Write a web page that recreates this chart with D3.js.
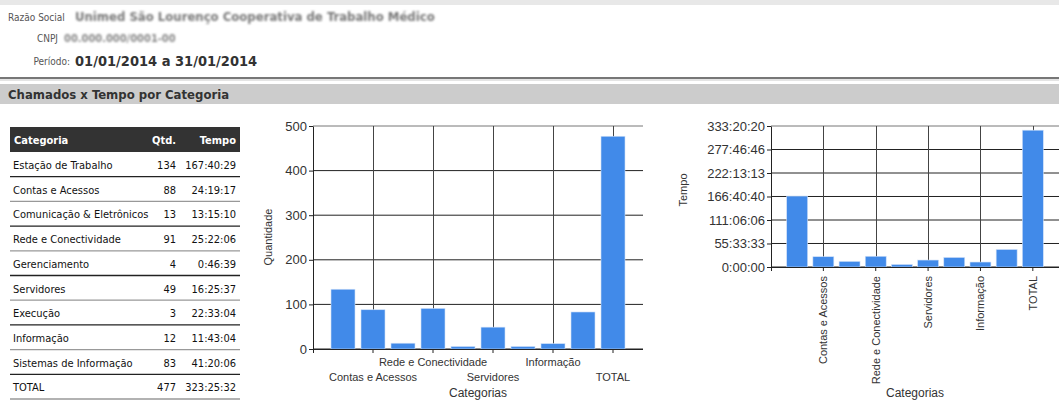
<!DOCTYPE html>
<html>
<head>
<meta charset="utf-8">
<script src="https://cdn.jsdelivr.net/npm/d3@7"></script>
<style>
  body { margin: 0; background: #fff; }
  svg { display: block; }
  .hdr { font-family: "DejaVu Sans Condensed", "DejaVu Sans", sans-serif; }
  .chart text { font-family: "Liberation Sans", Arial, sans-serif; fill: #333; }
</style>
</head>
<body>
<div id="page"></div>
<script>
//Table / chart data.
var categories = ["Estação de Trabalho", "Contas e Acessos", "Comunicação & Eletrônicos",
  "Rede e Conectividade", "Gerenciamento", "Servidores", "Execução", "Informação",
  "Sistemas de Informação", "TOTAL"];
var quantities = [134, 88, 13, 91, 4, 49, 3, 12, 83, 477];
var times = ["167:40:29", "24:19:17", "13:15:10", "25:22:06", "0:46:39", "16:25:37",
  "22:33:04", "11:43:04", "41:20:06", "323:25:32"];
var qtyTicks = [0, 100, 200, 300, 400, 500];
var timeTicks = ["0:00:00", "55:33:33", "111:06:06", "166:40:40", "222:13:13", "277:46:46", "333:20:20"];

//hh:mm:ss -> seconds
function toSec(s) {
  var p = s.split(":").map(Number);
  return p[0] * 3600 + p[1] * 60 + p[2];
}

var width = 1059, height = 401;
var svg = d3.select("#page").append("svg")
  .attr("width", width)
  .attr("height", height);

var defs = svg.append("defs");
defs.append("filter").attr("id", "blur")
  .append("feGaussianBlur").attr("stdDeviation", 1.3);

//Report header.
var head = svg.append("g").attr("class", "hdr");
head.append("rect").attr("x", 0).attr("y", 0).attr("width", width).attr("height", 5).attr("fill", "#e8e8e8");

head.append("text").attr("x", 8).attr("y", 21).attr("font-size", 10).attr("fill", "#555").text("Razão Social");
head.append("text").attr("x", 75).attr("y", 21).attr("font-size", 13).attr("font-weight", "bold")
  .attr("fill", "#777").attr("filter", "url(#blur)")
  .text("Unimed São Lourenço Cooperativa de Trabalho Médico");
head.append("text").attr("x", 58).attr("y", 42).attr("font-size", 10).attr("fill", "#555")
  .attr("text-anchor", "end").text("CNPJ");
head.append("text").attr("x", 64).attr("y", 42).attr("font-size", 11).attr("font-weight", "bold")
  .attr("fill", "#888").attr("filter", "url(#blur)").text("00.000.000/0001-00");
head.append("text").attr("x", 70).attr("y", 65).attr("font-size", 10).attr("fill", "#555")
  .attr("text-anchor", "end").text("Período:");
head.append("text").attr("x", 75).attr("y", 66).attr("font-size", 14.5).attr("font-weight", "bold")
  .attr("fill", "#333").text("01/01/2014 a 31/01/2014");

head.append("rect").attr("x", 0).attr("y", 77).attr("width", width).attr("height", 2).attr("fill", "#777");
head.append("rect").attr("x", 0).attr("y", 79).attr("width", width).attr("height", 2).attr("fill", "#e4e4e4");
head.append("rect").attr("x", 0).attr("y", 84).attr("width", width).attr("height", 20).attr("fill", "#cccccc");
head.append("text").attr("x", 8).attr("y", 99).attr("font-size", 13).attr("font-weight", "bold")
  .attr("fill", "#333").text("Chamados x Tempo por Categoria");

//Summary table.
var table = svg.append("g").attr("class", "hdr");
var tx = 10, tw = 230, headTop = 127, headH = 25, rowH = 24.7;
table.append("rect").attr("x", tx).attr("y", headTop).attr("width", tw).attr("height", headH).attr("fill", "#333");
table.append("text").attr("x", 14).attr("y", headTop + 17).attr("font-size", 11).attr("font-weight", "bold")
  .attr("fill", "#fff").text("Categoria");
table.append("text").attr("x", 176).attr("y", headTop + 17).attr("font-size", 11).attr("font-weight", "bold")
  .attr("fill", "#fff").attr("text-anchor", "end").text("Qtd.");
table.append("text").attr("x", 236).attr("y", headTop + 17).attr("font-size", 11).attr("font-weight", "bold")
  .attr("fill", "#fff").attr("text-anchor", "end").text("Tempo");

var rows = table.selectAll("g.row")
  .data(categories)
  .enter().append("g")
  .attr("class", "row")
  .attr("transform", function(d, i) { return "translate(0," + (headTop + headH + i * rowH) + ")"; });

rows.append("line")
  .attr("x1", tx).attr("x2", tx + tw)
  .attr("y1", rowH).attr("y2", rowH)
  .attr("stroke", function(d, i) { return i % 2 == 0 ? "#222" : "#999"; })
  .attr("stroke-width", 1.3);
rows.append("text").attr("x", 13).attr("y", 17).attr("font-size", 11).attr("fill", "#111")
  .text(function(d) { return d; });
rows.append("text").attr("x", 176).attr("y", 17).attr("font-size", 11).attr("fill", "#111")
  .attr("text-anchor", "end").text(function(d, i) { return quantities[i]; });
rows.append("text").attr("x", 236).attr("y", 17).attr("font-size", 11).attr("fill", "#111")
  .attr("text-anchor", "end").text(function(d, i) { return times[i]; });

//Shared bar chart builder (MS-Chart look).
function barChart(opt) {
  var g = svg.append("g").attr("class", "chart");

  var x = d3.scaleBand().domain(categories)
    .range([opt.left, opt.right]).paddingInner(0.2).paddingOuter(0.6);
  var y = d3.scaleLinear().domain(opt.domain).range([opt.bottom, opt.top]);
  var shown = categories.filter(function(d, i) { return i % 2 == 1; });

  //Grid lines.
  g.selectAll("line.hgrid").data(opt.tickVals).enter().append("line")
    .attr("x1", opt.left).attr("x2", opt.right)
    .attr("y1", function(d) { return y(d); }).attr("y2", function(d) { return y(d); })
    .attr("stroke", function(d, i) { return i == opt.tickVals.length - 1 ? "#777" : "#222"; });
  g.selectAll("line.vgrid").data(shown).enter().append("line")
    .attr("x1", function(d) { return Math.round(x(d) + x.bandwidth() / 2) + 0.5; })
    .attr("x2", function(d) { return Math.round(x(d) + x.bandwidth() / 2) + 0.5; })
    .attr("y1", opt.top).attr("y2", opt.bottom)
    .attr("stroke", "#444");

  //Bars (very small values still drawn a couple of pixels tall, like the original).
  g.selectAll("rect.bar").data(opt.values).enter().append("rect")
    .attr("class", "bar")
    .attr("x", function(d, i) { return x(categories[i]); })
    .attr("width", x.bandwidth())
    .attr("y", function(d) { return Math.min(y(d), opt.bottom - 2.5); })
    .attr("height", function(d) { return Math.max(opt.bottom - y(d), 2.5); })
    .attr("fill", "#418ae9")
    .attr("stroke", "#cfe0f8")
    .attr("stroke-width", 0.6);

  //Y axis.
  var yAxis = g.append("g")
    .attr("transform", "translate(" + opt.left + ",0)")
    .call(d3.axisLeft(y).tickValues(opt.tickVals).tickSize(4).tickSizeOuter(0)
      .tickFormat(function(d, i) { return opt.tickLabels[i]; }));
  yAxis.select(".domain").attr("stroke", "#222");
  yAxis.selectAll(".tick line").attr("stroke", "#222");
  yAxis.selectAll("text").attr("font-size", 13).attr("font-family", null).attr("dx", 1);

  //X axis.
  var xAxis = g.append("g")
    .attr("transform", "translate(0," + opt.bottom + ")")
    .call(d3.axisBottom(x).tickValues(shown).tickSize(4).tickSizeOuter(0));
  xAxis.select(".domain").attr("stroke", "#222").attr("d", "M" + (opt.left - 4) + ",0.5H" + opt.right);
  xAxis.selectAll(".tick line").attr("stroke", "#222");
  xAxis.append("line").attr("x1", opt.left + 0.5).attr("x2", opt.left + 0.5)
    .attr("y1", 0).attr("y2", 4).attr("stroke", "#222");
  opt.labels(xAxis.selectAll(".tick text").attr("font-size", 11).attr("font-family", null));

  //Titles.
  g.append("text")
    .attr("transform", "translate(" + opt.yTitleX + "," + opt.yTitleY + ") rotate(-90)")
    .attr("text-anchor", "middle").attr("font-size", 11).text(opt.yTitle);
  g.append("text")
    .attr("x", opt.xTitleX).attr("y", 397)
    .attr("text-anchor", "middle").attr("font-size", 12).text("Categorias");
}

//Quantidade chart.
barChart({
  left: 313, right: 643, top: 126, bottom: 349,
  domain: [0, 500],
  values: quantities,
  tickVals: qtyTicks,
  tickLabels: qtyTicks.map(String),
  yTitle: "Quantidade", yTitleX: 272, yTitleY: 237,
  xTitleX: 478,
  labels: function(sel) {
    sel.attr("y", function(d, i) { return i % 2 == 1 ? 9 : 24; })
      .attr("dy", "0.71em");
  }
});

//Tempo chart.
barChart({
  left: 771, right: 1059, top: 126, bottom: 267,
  domain: [0, toSec(timeTicks[timeTicks.length - 1])],
  values: times.map(toSec),
  tickVals: timeTicks.map(toSec),
  tickLabels: timeTicks,
  yTitle: "Tempo", yTitleX: 687, yTitleY: 190,
  xTitleX: 915,
  labels: function(sel) {
    sel.attr("transform", "rotate(-90)")
      .attr("text-anchor", "end")
      .attr("x", -9).attr("y", 0).attr("dy", "0.35em");
  }
});
</script>
</body>
</html>
